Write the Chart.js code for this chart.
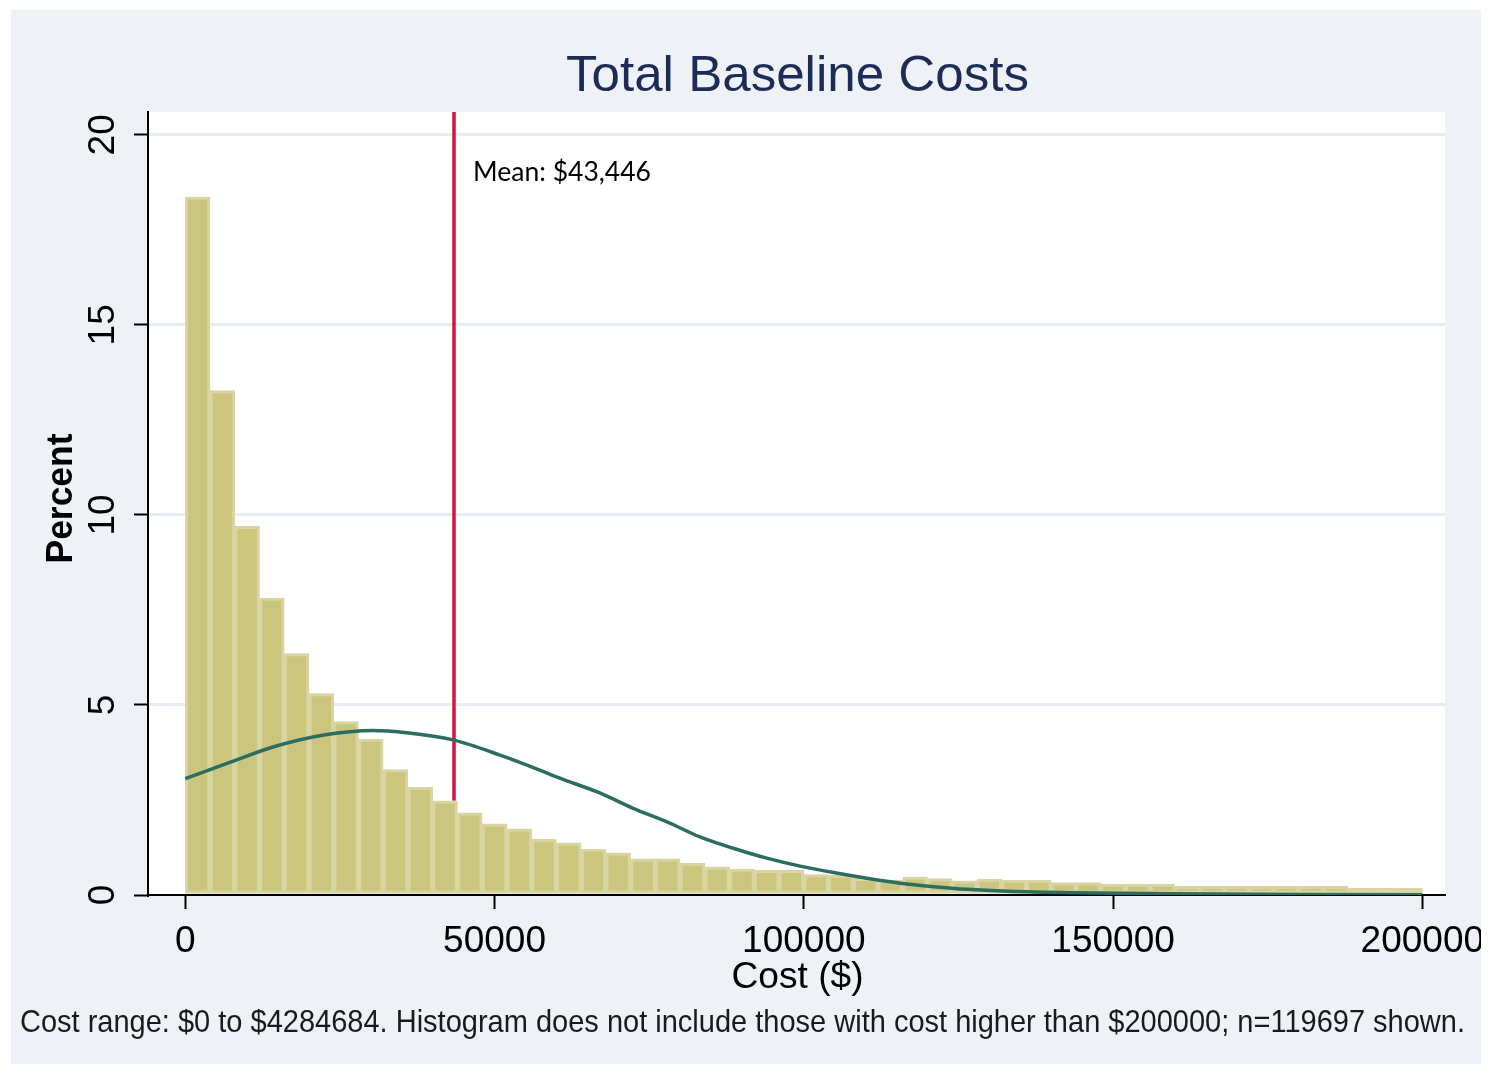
<!DOCTYPE html>
<html>
<head>
<meta charset="utf-8">
<title>Total Baseline Costs</title>
<script src="https://cdn.jsdelivr.net/npm/chart.js@4.4.1/dist/chart.umd.min.js"></script>
<style>
  html, body { margin: 0; padding: 0; background: #ffffff; }
  #wrap { width: 1490px; height: 1066px; }
  canvas { display: block; }
</style>
</head>
<body>
<div id="wrap"><canvas id="costChart" width="1490" height="1066"></canvas></div>
<script>
// ---- text ----
const chartTitle = 'Total Baseline Costs';
const xAxisTitle = 'Cost ($)';
const yAxisTitle = 'Percent';
const footnote = 'Cost range: $0 to $4284684. Histogram does not include those with cost higher than $200000; n=119697 shown.';

// ---- histogram: lower edge of each $4,000 bin and its share of patients (%) ----
const binWidth = 4000;
const binStarts = [0, 4000, 8000, 12000, 16000, 20000, 24000, 28000, 32000, 36000,
  40000, 44000, 48000, 52000, 56000, 60000, 64000, 68000, 72000, 76000,
  80000, 84000, 88000, 92000, 96000, 100000, 104000, 108000, 112000, 116000,
  120000, 124000, 128000, 132000, 136000, 140000, 144000, 148000, 152000, 156000,
  160000, 164000, 168000, 172000, 176000, 180000, 184000, 188000, 192000, 196000];
const percentValues = [18.36, 13.27, 9.70, 7.81, 6.35, 5.30, 4.56, 4.10, 3.30, 2.83,
  2.48, 2.16, 1.87, 1.74, 1.47, 1.37, 1.21, 1.11, 0.95, 0.95,
  0.84, 0.74, 0.68, 0.65, 0.65, 0.54, 0.52, 0.44, 0.39, 0.47,
  0.43, 0.37, 0.42, 0.39, 0.39, 0.33, 0.33, 0.28, 0.28, 0.28,
  0.23, 0.23, 0.23, 0.23, 0.23, 0.23, 0.23, 0.18, 0.18, 0.18];

// ---- fitted normal density overlay (percent per bin) ----
const normalX = [0, 7400, 14300, 22400, 30400, 35800, 43300, 50900, 57400, 60100,
  67100, 72400, 77800, 83200, 88600, 94000, 99400, 104800, 110200, 115600,
  121000, 126400, 133000, 144000, 160000, 180000, 200000];
const normalY = [3.06, 3.50, 3.90, 4.21, 4.33, 4.27, 4.08, 3.68, 3.28, 3.10,
  2.68, 2.28, 1.93, 1.53, 1.23, 0.97, 0.76, 0.59, 0.44, 0.31,
  0.22, 0.15, 0.10, 0.06, 0.03, 0.01, 0.005];

// ---- mean marker ----
const meanCost = 43446;
const meanLabel = 'Mean: $43,446';

// ---- axes ----
const xTicks = [0, 50000, 100000, 150000, 200000];
const yTicks = [0, 5, 10, 15, 20];
const xMin = -6030, xMax = 203670;
const yMin = 0, yMax = 20.6;

const PANEL = '#EEF1F6';
const GRID = '#E8EDF4';
const BAR_FILL = '#CCC57E';
const BAR_EDGE = '#D9D5A3';
const CURVE = '#2B6E60';
const MEAN_RED = '#D4143F';
const TITLE_NAVY = '#1C2C56';
const SANS = '"Liberation Sans", Arial, Helvetica, sans-serif';

const barData = binStarts.map((s, i) => ({ x: s + binWidth / 2, y: percentValues[i] }));
const curveData = normalX.map((x, i) => ({ x: x, y: normalY[i] }));
// the mean line rises from the top of the bar that contains the mean
const meanBin = binStarts.findIndex(s => meanCost >= s && meanCost < s + binWidth);
const meanData = [{ x: meanCost, y: percentValues[meanBin] }, { x: meanCost, y: yMax }];

// draw a line of text, optionally squeezed/stretched to a given width
function drawText(ctx, text, x, y, font, color, align, width, rotate) {
  ctx.save();
  ctx.font = font;
  const w = ctx.measureText(text).width;
  const s = width ? width / w : 1;
  ctx.translate(x, y);
  if (rotate) ctx.rotate(rotate);
  ctx.scale(s, 1);
  ctx.textAlign = align;
  ctx.textBaseline = 'alphabetic';
  ctx.fillStyle = color;
  ctx.fillText(text, 0, 0);
  ctx.restore();
}

const framePlugin = {
  id: 'frame',
  beforeDraw(chart) {
    const { ctx, chartArea: a } = chart;
    ctx.save();
    ctx.fillStyle = '#ffffff';
    ctx.fillRect(0, 0, chart.width, chart.height);
    ctx.fillStyle = PANEL;
    ctx.fillRect(11, 10, 1470, 1054);
    ctx.fillStyle = '#ffffff';
    ctx.fillRect(a.left, a.top, a.right - a.left, a.bottom - a.top);
    ctx.restore();
  },
  afterDatasetsDraw(chart) {
    const { ctx } = chart;
    const xs = chart.scales.x, ys = chart.scales.y;
    drawText(ctx, meanLabel, xs.getPixelForValue(meanCost) + 19, ys.getPixelForValue(18.78),
      '27px Lato, "Open Sans", sans-serif', '#000000', 'left', 178);
  },
  afterDraw(chart) {
    const { ctx, chartArea: a } = chart;
    const ys = chart.scales.y;
    const midX = (a.left + a.right) / 2;
    // title
    drawText(ctx, chartTitle, midX + 1, 91, '50px ' + SANS, TITLE_NAVY, 'center', 463);
    // y tick labels, reading upward
    ys.ticks.forEach(t => {
      drawText(ctx, String(t.value), 114, ys.getPixelForValue(t.value), '37px ' + SANS,
        '#000000', 'center', null, -Math.PI / 2);
    });
    // axis titles
    drawText(ctx, yAxisTitle, 71.5, (a.top + a.bottom) / 2 - 5, 'bold 36px ' + SANS, '#000000',
      'center', 130, -Math.PI / 2);
    drawText(ctx, xAxisTitle, midX + 1, 988, '37px ' + SANS, '#000000', 'center', 132);
    // note
    drawText(ctx, footnote, 20, 1032, '32px ' + SANS, '#1a1a1a', 'left', 1445);
    // outer white margin around the panel
    ctx.save();
    ctx.fillStyle = '#ffffff';
    ctx.fillRect(0, 0, chart.width, 10);
    ctx.fillRect(0, 0, 11, chart.height);
    ctx.fillRect(1481, 0, chart.width - 1481, chart.height);
    ctx.fillRect(0, 1064, chart.width, chart.height - 1064);
    ctx.restore();
  }
};

new Chart(document.getElementById('costChart'), {
  type: 'bar',
  data: {
    datasets: [
      {
        type: 'line',
        label: 'Normal density',
        data: curveData,
        borderColor: CURVE,
        borderWidth: 3.5,
        pointRadius: 0,
        cubicInterpolationMode: 'monotone',
        order: 0
      },
      {
        type: 'bar',
        label: 'Percent',
        data: barData,
        backgroundColor: BAR_FILL,
        borderColor: BAR_EDGE,
        borderWidth: 3,
        borderSkipped: false,
        barPercentage: 1,
        categoryPercentage: 1,
        order: 5
      },
      {
        type: 'line',
        label: 'Mean',
        data: meanData,
        borderColor: MEAN_RED,
        borderWidth: 3.5,
        pointRadius: 0,
        order: 10
      }
    ]
  },
  options: {
    responsive: false,
    devicePixelRatio: 1,
    animation: false,
    events: [],
    layout: { padding: { left: 0, top: 112, right: 45, bottom: 0 } },
    plugins: {
      legend: { display: false },
      title: { display: false },
      tooltip: { enabled: false }
    },
    scales: {
      x: {
        type: 'linear',
        position: 'bottom',
        min: xMin,
        max: xMax,
        offset: false,
        z: 1,
        afterBuildTicks: s => { s.ticks = xTicks.map(v => ({ value: v })); },
        afterFit: s => { s.height = 171; s.paddingLeft = 0; s.paddingRight = 0; },
        grid: {
          display: true,
          offset: false,
          drawOnChartArea: false,
          drawTicks: true,
          tickLength: 14,
          tickColor: '#000000',
          tickWidth: 2
        },
        border: { display: true, color: '#000000', width: 2 },
        ticks: {
          autoSkip: false,
          maxRotation: 0,
          minRotation: 0,
          padding: 11,
          color: '#000000',
          font: { family: SANS, size: 37 },
          callback: v => String(v)
        }
      },
      y: {
        type: 'linear',
        position: 'left',
        min: yMin,
        max: yMax,
        afterBuildTicks: s => { s.ticks = yTicks.map(v => ({ value: v })); },
        afterFit: s => { s.width = 148; s.paddingTop = 0; s.paddingBottom = 0; },
        grid: {
          display: true,
          color: c => (c.tick && c.tick.value === 0) ? 'rgba(0,0,0,0)' : GRID,
          lineWidth: 3,
          drawTicks: true,
          tickLength: 14,
          tickColor: '#000000',
          tickWidth: 2
        },
        border: { display: true, color: '#000000', width: 2 },
        ticks: { display: false }
      }
    }
  },
  plugins: [framePlugin]
});
</script>
</body>
</html>
